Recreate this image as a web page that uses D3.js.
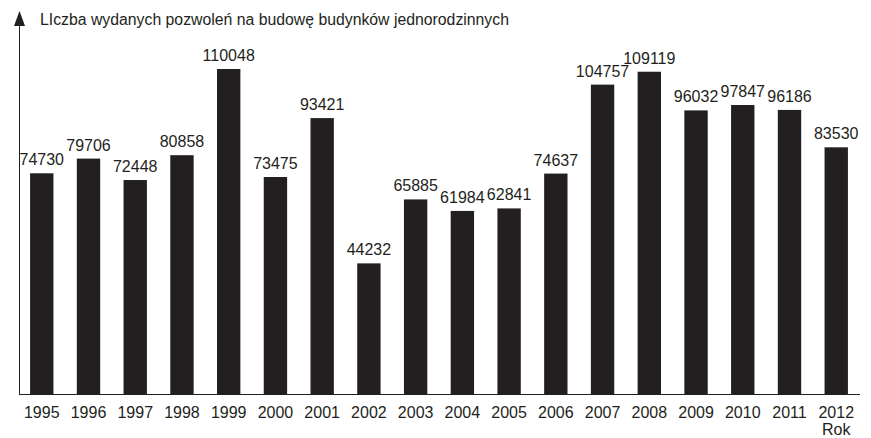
<!DOCTYPE html>
<meta charset="utf-8">
<script src="https://d3js.org/d3.v7.min.js"></script>
<style>
  body { margin: 0; background: #fff; }
  text { font-family: "Liberation Sans", Arial, sans-serif; fill: #231f20; }
</style>
<div id="my_dataviz"></div>
<script>

// data
var years = ["1995","1996","1997","1998","1999","2000","2001","2002","2003",
             "2004","2005","2006","2007","2008","2009","2010","2011","2012"];
var permits = [74730, 79706, 72448, 80858, 110048, 73475, 93421, 44232, 65885,
               61984, 62841, 74637, 104757, 109119, 96032, 97847, 96186, 83530];

var width = 871, height = 438;

var svg = d3.select("#my_dataviz")
  .append("svg")
    .attr("width", width)
    .attr("height", height);

var x = d3.scaleBand()
  .domain(years)
  .range([18.4, 859.6])
  .paddingInner(0.5)
  .paddingOuter(0.25);

var y = d3.scaleLinear()
  .domain([0, 120000])
  .range([394, 39.6]);

// bars
svg.selectAll("rect.bar")
  .data(permits)
  .enter()
  .append("rect")
    .attr("class", "bar")
    .attr("x", function(d, i) { return x(years[i]); })
    .attr("y", function(d) { return y(d); })
    .attr("width", x.bandwidth())
    .attr("height", function(d) { return y(0) - y(d); })
    .attr("fill", "#231f20");

// value labels
svg.selectAll("text.val")
  .data(permits)
  .enter()
  .append("text")
    .attr("class", "val")
    .attr("x", function(d, i) { return x(years[i]) + x.bandwidth() / 2; })
    .attr("y", function(d) { return y(d) - 8; })
    .attr("text-anchor", "middle")
    .style("font-size", "16px")
    .text(function(d) { return d; });

// x axis (baseline + year labels)
var xAxis = svg.append("g")
  .attr("transform", "translate(0," + y(0) + ")")
  .call(d3.axisBottom(x).tickSize(0).tickPadding(13));
xAxis.select(".domain")
  .attr("d", "M19,0.5H860")
  .attr("stroke", "#231f20");
xAxis.selectAll("text")
  .style("font-size", "16px")
  .attr("font-family", null);

// y axis line with arrow
svg.append("line")
  .attr("x1", 19.5).attr("x2", 19.5)
  .attr("y1", 22).attr("y2", y(0))
  .attr("stroke", "#231f20");
svg.append("path")
  .attr("d", "M19.5,11L25,26L14,26Z")
  .attr("fill", "#231f20");

svg.append("text")
  .attr("x", 40)
  .attr("y", 25)
  .style("font-size", "15.8px")
  .text("LIczba wydanych pozwoleń na budowę budynków jednorodzinnych");

svg.append("text")
  .attr("x", x("2012") + x.bandwidth() / 2)
  .attr("y", 435)
  .attr("text-anchor", "middle")
  .style("font-size", "16px")
  .text("Rok");

</script>
